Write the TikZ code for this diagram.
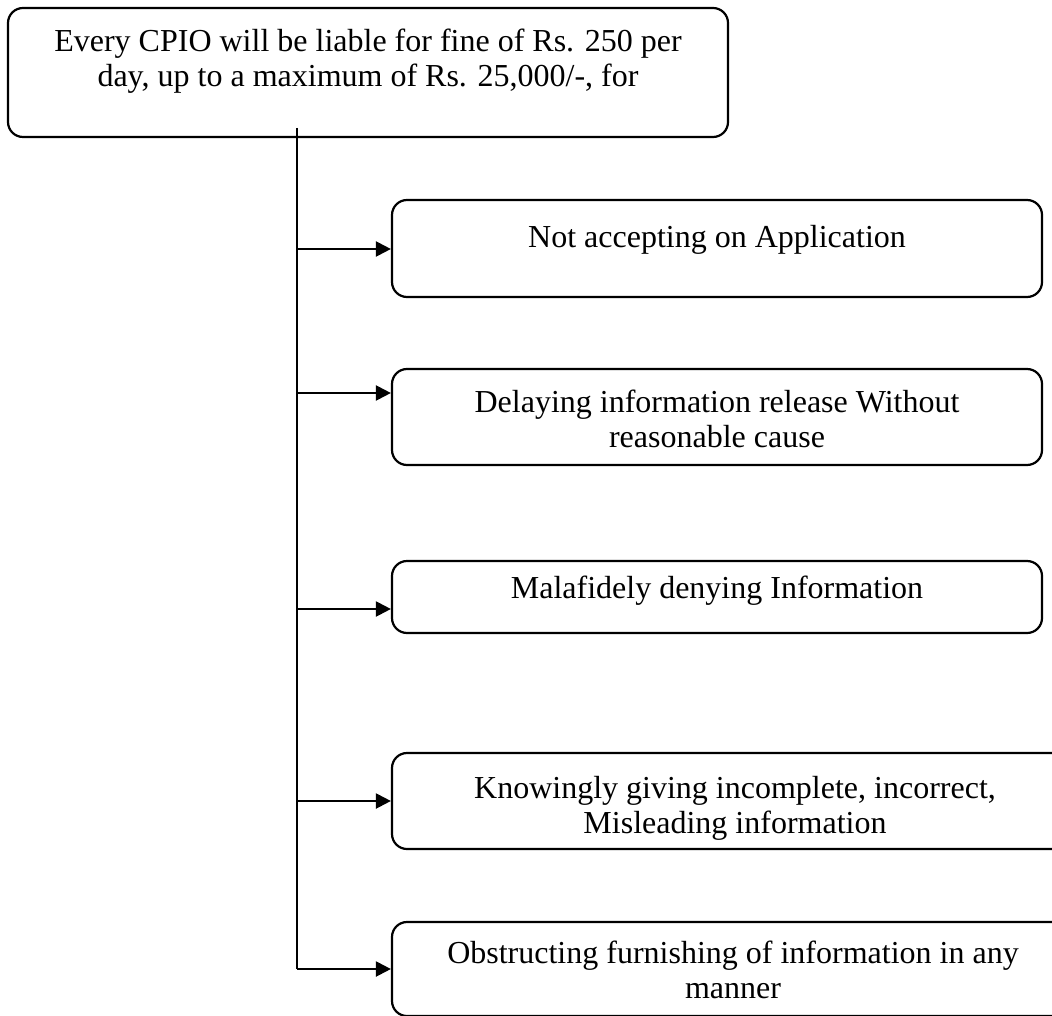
\documentclass[tikz,border=0pt]{standalone}
\usepackage{fontspec}
\setmainfont{Liberation Serif}
\usetikzlibrary{arrows.meta,positioning}

\tikzset{
	box/.style={draw, line width=1.1pt, rounded corners=7.5pt, inner sep=0pt},
	txt/.style={align=center, anchor=base, inner sep=0pt, font=\fontsize{16}{17.5}\selectfont},
	arr/.style={line width=1.1pt, -{Triangle[length=7.5pt,width=7.5pt]}}
}

\begin{document}
\begin{tikzpicture}[x=0.5pt,y=-0.5pt]
		\clip (0,0) rectangle (1052,1015);

		\node[box, minimum width=360pt, minimum height=64.5pt] (top) at (368,72.5) {};
		\node[txt] (topText) at (368,87) {Every CPIO will be liable for fine of Rs. 250 per\\day, up to a maximum of Rs. 25,000/-, for};

		\node[box, minimum width=325pt, minimum height=48.5pt] (b1) at (717,248.5) {};
		\node[txt] (t1) at (717,248) {Not accepting on Application};

		\node[box, minimum width=325pt, minimum height=48pt] (b2) at (717,417) {};
		\node[txt] (t2) at (717,447) {Delaying information release Without\\reasonable cause};

		\node[box, minimum width=325pt, minimum height=36pt] (b3) at (717,597) {};
		\node[txt] (t3) at (717,598) {Malafidely denying Information};

		\node[box, minimum width=343pt, minimum height=48pt] (b4) at (735,801) {};
		\node[txt] (t4) at (735,833) {Knowingly giving incomplete, incorrect,\\Misleading information};

		\node[box, minimum width=343pt, minimum height=47pt] (b5) at (735,969) {};
		\node[txt] (t5) at (733,998) {Obstructing furnishing of information in any\\manner};

		\coordinate (t0) at (297,128);
		\coordinate (j1) at (297,249);
		\coordinate (j2) at (297,393);
		\coordinate (j3) at (297,609);
		\coordinate (j4) at (297,801);
		\coordinate (j5) at (297,969);

		\draw[line width=1.1pt] (t0) -- (j5);

		\draw[arr] (j1) -- (j1 -| b1.west);
		\draw[arr] (j2) -- (j2 -| b2.west);
		\draw[arr] (j3) -- (j3 -| b3.west);
		\draw[arr] (j4) -- (j4 -| b4.west);
		\draw[arr] (j5) -- (j5 -| b5.west);

\end{tikzpicture}
\end{document}
